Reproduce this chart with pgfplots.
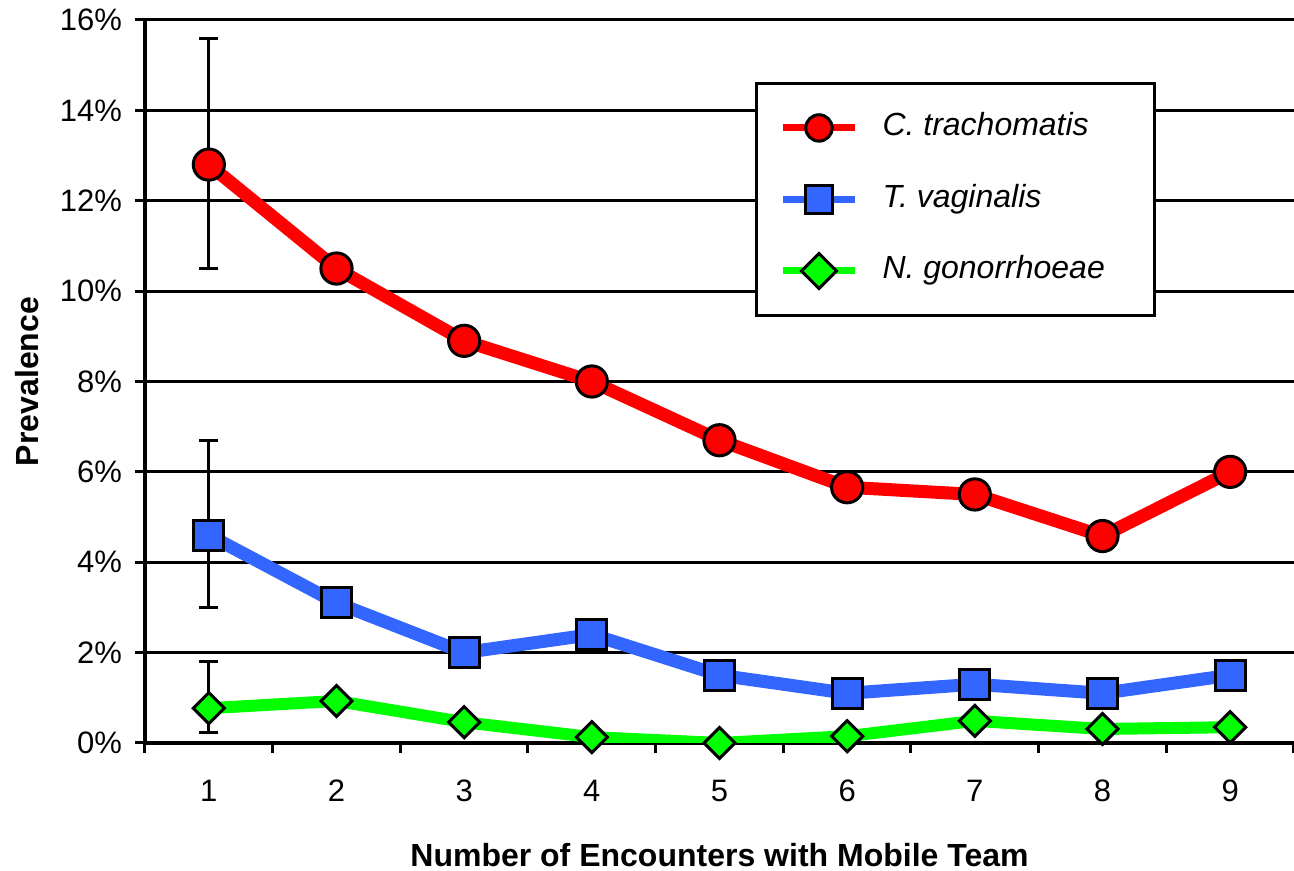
\documentclass[border=0pt]{standalone}
\usepackage{fontspec}
\setmainfont{Liberation Sans}
\usepackage{pgfplots}
\pgfplotsset{compat=1.18}
\definecolor{ctred}{RGB}{255,0,0}
\definecolor{tvblue}{RGB}{51,102,255}
\definecolor{nggreen}{RGB}{0,255,0}
\pgfplotsset{myleg/.style={legend image code/.code={\draw[mark repeat=2,mark phase=2,##1,line width=3.5pt,mark size=#1] plot coordinates {(0pt,0pt) (18pt,0pt) (36pt,0pt)};}}}
\begin{document}
\begin{tikzpicture}
\begin{axis}[
  scale only axis,
  width=574.5pt, height=361.5pt,
  xmin=0.5, xmax=9.5, ymin=0, ymax=16,
  axis x line*=bottom, axis y line*=left,
  axis line style={line width=2pt, -},
  xtick={1,...,9},
  minor xtick={0.5,1.5,...,9.5},
  major x tick style={draw=none},
  minor x tick style={line width=1.5pt, black},
  minor tick length=5pt,
  ytick={0,2,...,16},
  yticklabels={0\%,2\%,4\%,6\%,8\%,10\%,12\%,14\%,16\%},
  major tick length=5pt,
  tick align=outside,
  y tick style={line width=1.5pt, black},
  ymajorgrids,
  grid style={line width=1.5pt, black},
  /pgf/number format/assume math mode=true,
  tick label style={font=\fontsize{15.5pt}{18pt}\selectfont},
  xticklabel style={yshift=-10pt},
  yticklabel style={xshift=-3pt},
  xlabel={Number of Encounters with Mobile Team},
  ylabel={Prevalence},
  label style={font=\fontsize{16pt}{19pt}\selectfont\bfseries},
  xlabel style={at={(axis description cs:0.5,0)}, anchor=north, inner sep=0pt, yshift=-50pt},
  ylabel style={at={(axis description cs:0,0.5)}, anchor=south, inner sep=0pt, yshift=53pt},
  legend style={at={(0.5309,0.9143)}, anchor=north west, draw=black, line width=1.5pt,
    font=\fontsize{16pt}{19pt}\selectfont\itshape, inner xsep=11.5pt, inner ysep=12.75pt,
    row sep=16.75pt, column sep=12pt,
    nodes={inner sep=0pt, text height=13.5pt, text depth=5.5pt}},
  legend cell align=left,
]
% error bars (behind)
\addplot[forget plot, draw=none, mark=none,
  error bars/.cd, y dir=both, y explicit,
  error bar style={line width=1.5pt, black},
  error mark options={rotate=90, mark size=4.75pt, line width=1.5pt, black}]
  coordinates {(1,12.8) += (0,2.8) -= (0,2.3)
               (1,4.6) += (0,2.1) -= (0,1.6)
               (1,0.77) += (0,1.03) -= (0,0.53)};
\addplot[color=ctred, line width=6.5pt, mark=*,
  mark options={fill=ctred, draw=black, line width=1.5pt, solid}, mark size=7.8pt,
  myleg=6.6pt]
  coordinates {(1,12.8) (2,10.5) (3,8.9) (4,8.0) (5,6.7) (6,5.66) (7,5.5) (8,4.58) (9,6.0)};
\addlegendentry{C. trachomatis}
\addplot[color=tvblue, line width=6.5pt, mark=square*,
  mark options={fill=tvblue, draw=black, line width=1.5pt, solid}, mark size=7.5pt,
  myleg=6.8pt]
  coordinates {(1,4.6) (2,3.1) (3,2.0) (4,2.4) (5,1.5) (6,1.1) (7,1.3) (8,1.1) (9,1.5)};
\addlegendentry{T. vaginalis}
\addplot[color=nggreen, line width=6pt, mark=square*,
  mark options={fill=nggreen, draw=black, line width=1.5pt, solid, rotate=45}, mark size=5.5pt,
  myleg=6.2pt]
  coordinates {(1,0.77) (2,0.93) (3,0.46) (4,0.13) (5,0.0) (6,0.15) (7,0.49) (8,0.31) (9,0.35)};
\addlegendentry{N. gonorrhoeae\hspace*{13.5pt}\mbox{}}
\end{axis}
\pgfresetboundingbox
\path (-72.5pt,-64pt) rectangle (574.5pt,371.5pt);
\end{tikzpicture}
\end{document}
